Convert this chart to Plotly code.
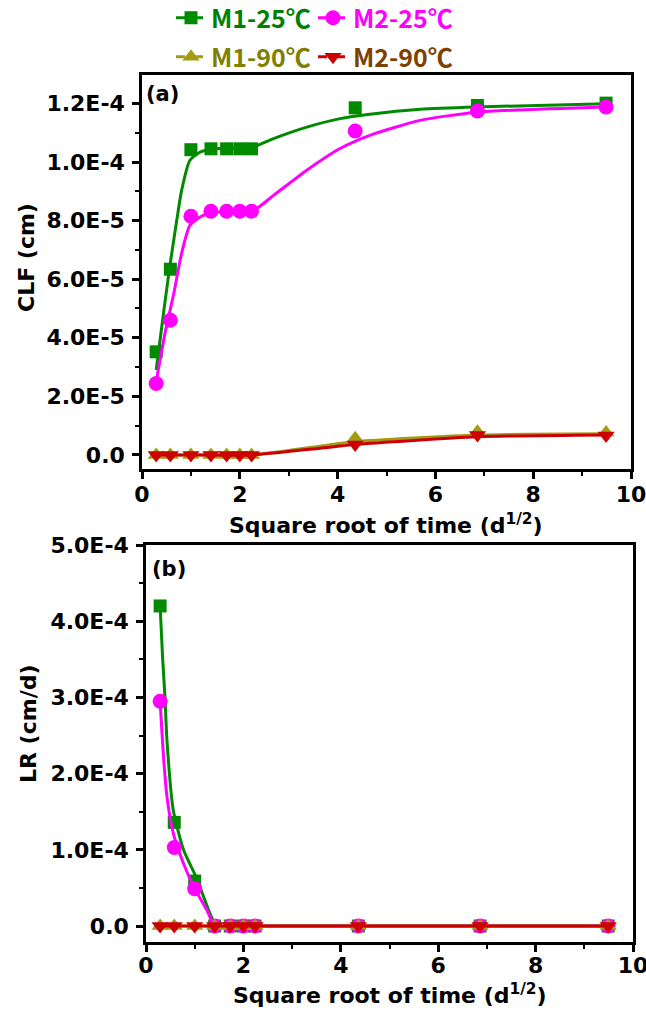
import plotly.graph_objects as go

W, H = 646, 1012

# ---------------- data ----------------
x_sqrt_t = [0.29, 0.58, 1.0, 1.41, 1.73, 2.0, 2.24, 4.36, 6.86, 9.49]

clf_m1_25 = [3.52e-5, 6.34e-5, 1.042e-4, 1.045e-4, 1.045e-4, 1.045e-4, 1.045e-4, 1.185e-4, 1.193e-4, 1.201e-4]
clf_m2_25 = [2.44e-5, 4.60e-5, 8.15e-5, 8.32e-5, 8.32e-5, 8.32e-5, 8.32e-5, 1.106e-4, 1.174e-4, 1.188e-4]
clf_m1_90 = [0, 0, 0, 0, 0, 0, 0, 5.7e-6, 7.9e-6, 7.7e-6]
clf_m2_90 = [0, 0, 0, 0, 0, 0, 0, 3.6e-6, 6.8e-6, 6.6e-6]

lr_m1_25 = [4.20e-4, 1.36e-4, 5.9e-5, 0, 0, 0, 0, 0, 0, 0]
lr_m2_25 = [2.95e-4, 1.03e-4, 4.9e-5, 0, 0, 0, 0, 0, 0, 0]
lr_m1_90 = [0, 0, 0, 0, 0, 0, 0, 0, 0, 0]
lr_m2_90 = [0, 0, 0, 0, 0, 0, 0, 0, 0, 0]

# fitted curves
fit_clf_x_m1 = [0.29, 0.44, 0.56, 0.71, 0.81, 0.98, 1.19, 1.5, 2.24, 2.69, 3.37, 4.05, 4.66, 5.69, 6.84, 9.49]
fit_clf_m1_25 = [2.9e-5, 4.84e-5, 6.34e-5, 8.0e-5, 9.03e-5, 1.006e-4, 1.034e-4, 1.045e-4, 1.05e-4,
                 1.08e-4, 1.119e-4, 1.148e-4, 1.163e-4, 1.180e-4, 1.188e-4, 1.199e-4]
fit_clf_x_m2 = [0.29, 0.47, 0.65, 0.81, 0.98, 1.25, 1.6, 2.28, 2.69, 3.37, 4.05, 4.66, 5.69, 6.84, 9.49]
fit_clf_m2_25 = [2.5e-5, 4.15e-5, 5.51e-5, 6.88e-5, 7.84e-5, 8.18e-5, 8.3e-5, 8.35e-5, 8.86e-5,
                 9.72e-5, 1.046e-4, 1.091e-4, 1.142e-4, 1.17e-4, 1.188e-4]
fit_clf_x_90 = [0.29, 1.0, 2.24, 3.64, 4.36, 6.86, 9.49]
fit_clf_m1_90 = [0, 0, 0, 3.0e-6, 4.5e-6, 6.8e-6, 7.2e-6]
fit_clf_m2_90 = [0, 0, 0, 2.3e-6, 3.6e-6, 6.2e-6, 6.8e-6]

fit_lr_x_m1 = [0.29, 0.34, 0.39, 0.43, 0.56, 0.77, 1.04, 1.31, 1.45, 2.24, 4.36, 6.86, 9.49]
fit_lr_m1_25 = [4.2e-4, 3.53e-4, 3.0e-4, 2.44e-4, 1.52e-4, 1.0e-4, 6.26e-5, 1.7e-5, 0, 0, 0, 0, 0]
fit_lr_x_m2 = [0.29, 0.36, 0.43, 0.56, 0.77, 1.0, 1.25, 1.42, 2.24, 4.36, 6.86, 9.49]
fit_lr_m2_25 = [2.95e-4, 2.22e-4, 1.7e-4, 1.22e-4, 8.2e-5, 4.9e-5, 2.1e-5, 0, 0, 0, 0, 0]
fit_lr_x_90 = [0.29, 9.49]
fit_lr_m1_90 = [0, 0]
fit_lr_m2_90 = [0, 0]

series_names = ["M1-25℃", "M2-25℃", "M1-90℃", "M2-90℃"]

x_ticks = [0, 2, 4, 6, 8, 10]
clf_ticks = [0, 2e-5, 4e-5, 6e-5, 8e-5, 1.0e-4, 1.2e-4]
clf_ticktext = ["0.0", "2.0E-5", "4.0E-5", "6.0E-5", "8.0E-5", "1.0E-4", "1.2E-4"]
lr_ticks = [0, 1e-4, 2e-4, 3e-4, 4e-4, 5e-4]
lr_ticktext = ["0.0", "1.0E-4", "2.0E-4", "3.0E-4", "4.0E-4", "5.0E-4"]

# ---------------- styles ----------------
GREEN = "#008A00"
MAG = "#FF00FF"
OLIVE = "#A39B12"
RED = "#CC0000"
line_cols = [GREEN, MAG, OLIVE, RED]
marker_syms = ["square", "circle", "triangle-up", "triangle-down"]
marker_sizes = [13, 15, 15, 15]
text_cols = ["#008000", "#FF00FF", "#808000", "#804000"]
FONT = "DejaVu Sans"
LEG_FONT = "Noto Sans CJK SC"


def px(xp):
    return xp / W


def py(yp):
    return 1 - yp / H


fig = go.Figure()

clf_data = [clf_m1_25, clf_m2_25, clf_m1_90, clf_m2_90]
lr_data = [lr_m1_25, lr_m2_25, lr_m1_90, lr_m2_90]
clf_fit = [(fit_clf_x_m1, fit_clf_m1_25), (fit_clf_x_m2, fit_clf_m2_25),
           (fit_clf_x_90, fit_clf_m1_90), (fit_clf_x_90, fit_clf_m2_90)]
lr_fit = [(fit_lr_x_m1, fit_lr_m1_25), (fit_lr_x_m2, fit_lr_m2_25),
          (fit_lr_x_90, fit_lr_m1_90), (fit_lr_x_90, fit_lr_m2_90)]

for i in range(4):
    for (xa, ya, data, fit) in [("x", "y", clf_data, clf_fit), ("x2", "y2", lr_data, lr_fit)]:
        fig.add_trace(go.Scatter(
            x=fit[i][0], y=fit[i][1], mode="lines", xaxis=xa, yaxis=ya,
            line=dict(color=line_cols[i], width=3, shape="spline", smoothing=0.6),
            showlegend=False, hoverinfo="skip"))
        fig.add_trace(go.Scatter(
            x=x_sqrt_t, y=data[i], mode="markers", xaxis=xa, yaxis=ya,
            marker=dict(symbol=marker_syms[i], size=marker_sizes[i], color=line_cols[i],
                        line=dict(width=0)),
            showlegend=False))

# legend-only traces
legend_ids = ["legend", "legend2", "legend3", "legend4"]
for i in range(4):
    fig.add_trace(go.Scatter(
        x=[None], y=[None], mode="lines+markers", name=series_names[i],
        line=dict(color=line_cols[i], width=3, dash="dash"),
        marker=dict(symbol=marker_syms[i], size=marker_sizes[i], color=line_cols[i]),
        legend=legend_ids[i], showlegend=True))

axis_common = dict(
    showline=True, linecolor="black", linewidth=2.5, mirror=True,
    ticks="outside", ticklen=7, tickwidth=2.5, tickcolor="black",
    showgrid=False, zeroline=False, automargin=False, ticklabeloverflow="allow",
    tickfont=dict(family=FONT, size=22, color="black", weight="bold"),
)
minor_x = dict(dtick=1, tick0=0, ticklen=4, tickwidth=2, tickcolor="black", ticks="outside")

fig.update_layout(
    width=W, height=H, margin=dict(l=0, r=0, t=0, b=0, autoexpand=False),
    plot_bgcolor="white", paper_bgcolor="white",
    font=dict(family=FONT, color="black"),
    xaxis=dict(domain=[px(142), px(631)], range=[0, 10], tickvals=x_ticks,
               minor=minor_x, ticklabelstandoff=-3, anchor="y", **axis_common),
    yaxis=dict(domain=[py(469), py(75)], range=[-4.8e-6, 1.297e-4], tickvals=clf_ticks,
               ticktext=clf_ticktext, ticklabelstandoff=3,
               minor=dict(dtick=1e-5, tick0=0, ticklen=4, tickwidth=2, tickcolor="black", ticks="outside"),
               anchor="x", **axis_common),
    xaxis2=dict(domain=[px(146), px(633)], range=[0, 10], tickvals=x_ticks,
                minor=minor_x, ticklabelstandoff=-5, anchor="y2", **axis_common),
    yaxis2=dict(domain=[py(942), py(545)], range=[-2.1e-5, 5.0e-4], tickvals=lr_ticks,
                ticktext=lr_ticktext, ticklabelstandoff=3,
                minor=dict(dtick=5e-5, tick0=0, ticklen=4, tickwidth=2, tickcolor="black", ticks="outside"),
                anchor="x2", **axis_common),
)

leg_pos = [(171, 18), (313, 18), (171, 57), (313, 57)]
for i, lid in enumerate(legend_ids):
    fig.update_layout({lid: dict(
        x=px(leg_pos[i][0]), y=py(leg_pos[i][1]), xref="container", yref="container",
        xanchor="left", yanchor="middle",
        orientation="h", bgcolor="rgba(0,0,0,0)", borderwidth=0,
        font=dict(family=LEG_FONT, size=25, color=text_cols[i], weight="bold"),
        itemsizing="trace")})

ann_font = dict(family=FONT, size=22, color="black", weight="bold")
fig.add_annotation(text="(a)", x=px(144), y=py(94), xref="paper", yref="paper",
                   xanchor="left", yanchor="middle", showarrow=False,
                   font=dict(family=FONT, size=21, color="black", weight="bold"))
fig.add_annotation(text="(b)", x=px(150), y=py(569), xref="paper", yref="paper",
                   xanchor="left", yanchor="middle", showarrow=False,
                   font=dict(family=FONT, size=21, color="black", weight="bold"))
fig.add_annotation(text="CLF (cm)", x=px(26), y=py(258), xref="paper", yref="paper",
                   textangle=-90, xanchor="center", yanchor="middle", showarrow=False, font=ann_font)
fig.add_annotation(text="LR (cm/d)", x=px(28), y=py(724), xref="paper", yref="paper",
                   textangle=-90, xanchor="center", yanchor="middle", showarrow=False, font=ann_font)
fig.add_annotation(text="Square root of time (d<sup>1/2</sup>)", x=px(386), y=py(524),
                   xref="paper", yref="paper", xanchor="center", yanchor="middle",
                   showarrow=False, font=ann_font)
fig.add_annotation(text="Square root of time (d<sup>1/2</sup>)", x=px(390), y=py(994),
                   xref="paper", yref="paper", xanchor="center", yanchor="middle",
                   showarrow=False, font=ann_font)

fig.write_html("out.html")
